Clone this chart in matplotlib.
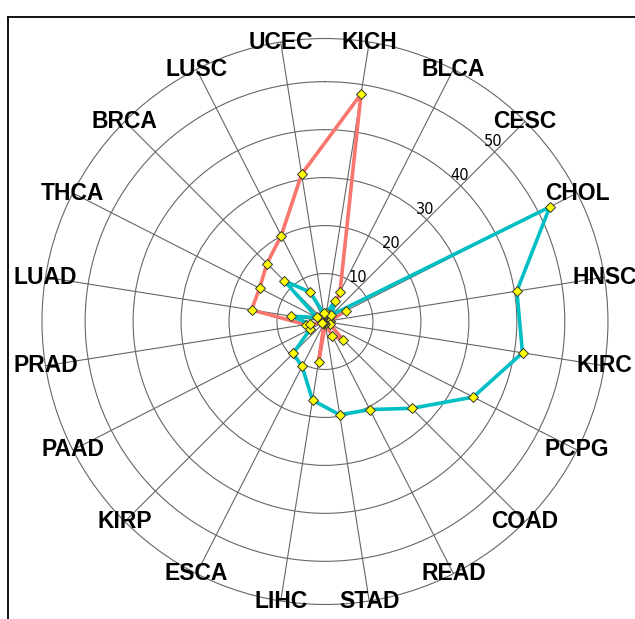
import numpy as np
import matplotlib
matplotlib.use("Agg")
import matplotlib.pyplot as plt
from matplotlib.lines import Line2D

# cancer types, clockwise from the top
categories = ["KICH", "BLCA", "CESC", "CHOL", "HNSC", "KIRC", "PCPG", "COAD",
              "READ", "STAD", "LIHC", "ESCA", "KIRP", "PAAD", "PRAD", "LUAD",
              "THCA", "BRCA", "LUSC", "UCEC"]

red_values = [48.0, 6.9, 1.5, 4.9, 1.0, 0.8, 1.1, 5.4,
              3.4, 0.5, 8.5, 0.4, 0.5, 0.6, 4.1, 15.5,
              15.3, 17.1, 20.1, 31.1]

cyan_values = [1.8, 4.8, 1.9, 52.6, 40.5, 41.7, 34.7, 25.6,
               20.6, 19.7, 16.6, 10.5, 9.4, 3.4, 3.1, 7.1,
               1.9, 12.0, 6.9, 1.7]

r_ticks = [10, 20, 30, 40, 50]

RED = "#F8766D"
CYAN = "#00BFC4"
GRID = "#666666"

n = len(categories)
theta = np.deg2rad(9 + 360.0 / n * np.arange(n))
theta_closed = np.append(theta, theta[0])

fig = plt.figure(figsize=(6.35, 6.19), dpi=100)
ax = fig.add_axes([0.0661, 0.0234, 0.8913, 0.9144], projection="polar")
ax.set_theta_zero_location("N")
ax.set_theta_direction(-1)
ax.set_ylim(0, 59)

for vals, col in [(red_values, RED), (cyan_values, CYAN)]:
    v = np.append(vals, vals[0])
    ax.plot(theta_closed, v, color=col, lw=2.6, zorder=3)
for vals in [red_values, cyan_values]:
    ax.plot(theta, vals, ls="none", marker="D", ms=5, mfc="#ffff00",
            mec="#333333", mew=0.7, zorder=4)

ax.set_xticks(theta)
ax.set_xticklabels([])
ax.set_yticks(r_ticks)
ax.set_yticklabels([])
ax.grid(True, color=GRID, lw=0.8)
ax.spines["polar"].set_color(GRID)
ax.spines["polar"].set_linewidth(0.8)

# ring values sit just above where each ring crosses the CESC spoke
for r in r_ticks:
    ax.annotate(str(r), xy=(np.deg2rad(45), r), xytext=(-1, 2),
                textcoords="offset points", ha="center", va="bottom",
                fontsize=10.5, zorder=5)

for t, name in zip(theta, categories):
    ax.text(t, 59, name, ha="center", va="center", fontsize=16.5,
            fontweight="bold", family="Liberation Sans", clip_on=False, zorder=5)

# open frame along the top and left edges
fig.add_artist(Line2D([8 / 635, 8 / 635], [0, 1 - 17 / 619], color="black", lw=1.3))
fig.add_artist(Line2D([8 / 635, 1], [1 - 17 / 619, 1 - 17 / 619], color="black", lw=1.3))

fig.savefig("out.png", dpi=100)
